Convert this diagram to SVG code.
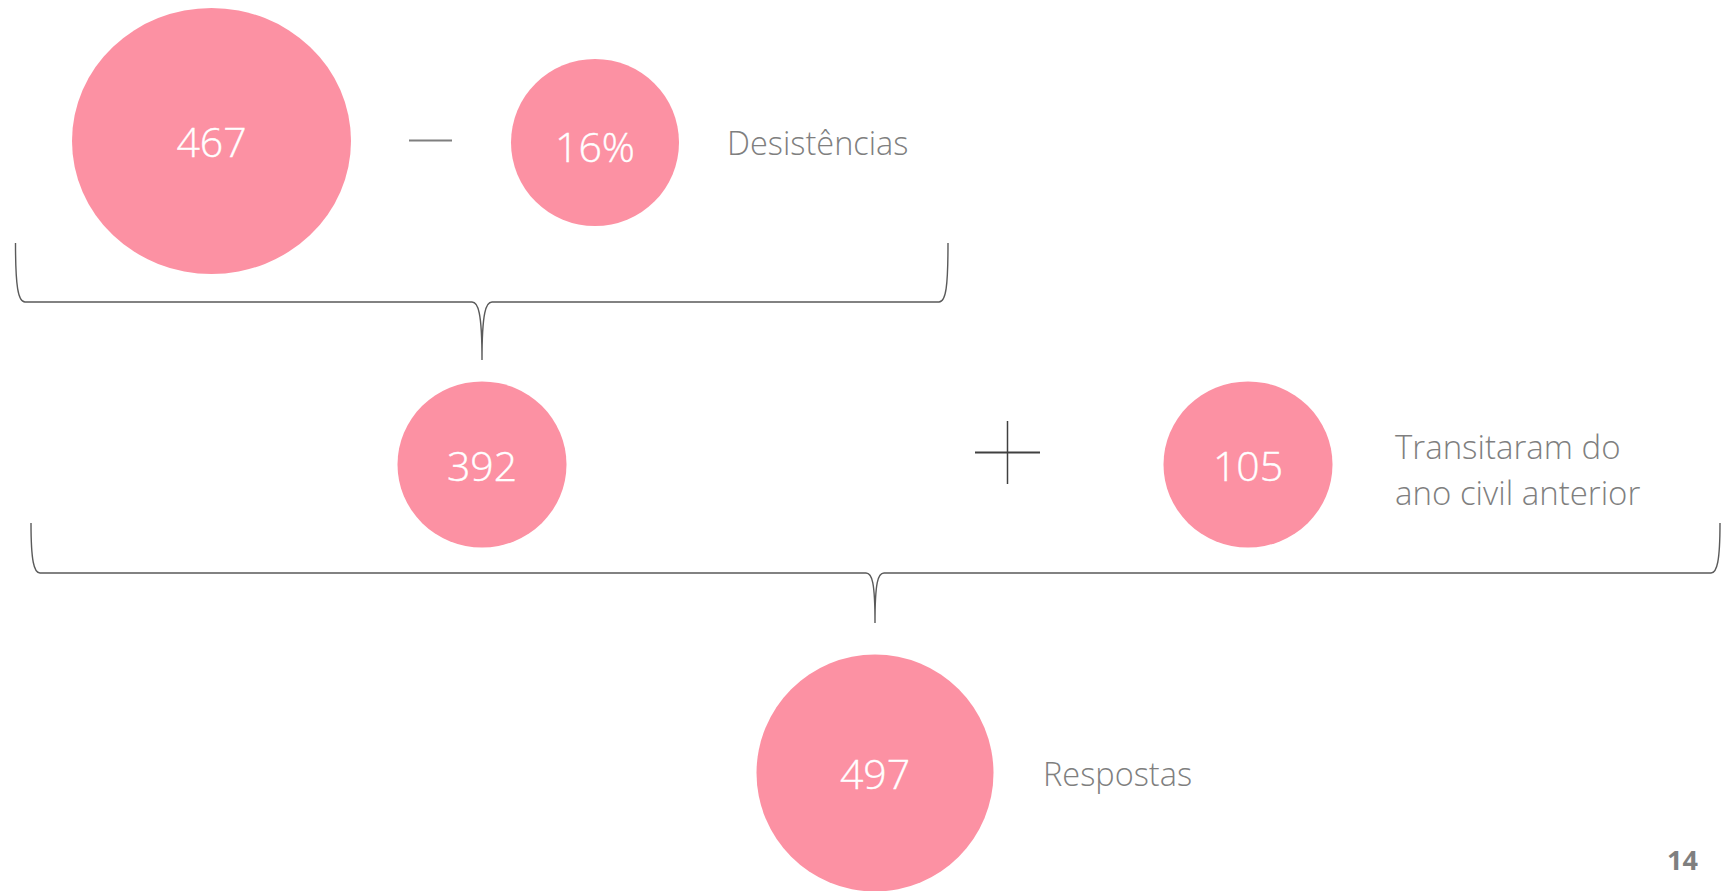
<svg xmlns="http://www.w3.org/2000/svg" width="1734" height="891" viewBox="0 0 1734 891">
<style>
.bubble{fill:#FC91A3}
.num{font-family:"Open Sans","Liberation Sans",sans-serif;font-weight:300;font-size:41px;fill:#ffffff;text-anchor:middle;stroke:#ffffff;stroke-width:0.4}
.lbl{font-family:"Open Sans","Liberation Sans",sans-serif;font-weight:300;font-size:32.5px;fill:#7f7f7f}
.brace{fill:none;stroke:#5a5a5a;stroke-width:1.4}
</style>
<rect width="1734" height="891" fill="#ffffff"/>
<g id="connectors">
<path class="brace" d="M15.5,243 C15.5,286 18,302 25,302 L472,302 C478,302 482,312 482,360 C482,312 486,302 492,302 L939,302 C946,302 948,286 948,243"/>
<path class="brace" d="M31,523 C31,561 34,573 40,573 L866,573 C872,573 875,582 875,623 C875,582 878,573 884,573 L1711,573 C1717,573 1720,561 1720,523"/>
<line id="minus" x1="409" y1="140.5" x2="452" y2="140.5" stroke="#7f7f7f" stroke-width="2"/>
<g id="plus">
<line x1="975" y1="452.5" x2="1040" y2="452.5" stroke="#404040" stroke-width="2"/>
<line x1="1007.5" y1="421" x2="1007.5" y2="484" stroke="#404040" stroke-width="1.5"/>
</g>
</g>
<g id="n467">
<ellipse class="bubble" cx="211.5" cy="141" rx="139.5" ry="133"/>
<text class="num" x="211.5" y="157">467</text>
</g>
<g id="n16">
<ellipse class="bubble" cx="595" cy="142.5" rx="84" ry="83.5"/>
<text class="num" x="595" y="162">16%</text>
</g>
<text id="desistencias" class="lbl" x="727" y="155">Desistências</text>
<g id="n392">
<ellipse class="bubble" cx="482" cy="464.5" rx="84.5" ry="83"/>
<text class="num" x="482" y="481">392</text>
</g>
<g id="n105">
<ellipse class="bubble" cx="1248" cy="464.5" rx="84.5" ry="83"/>
<text class="num" x="1248" y="481">105</text>
</g>
<text id="transitaram" class="lbl" x="1395" style="font-size:33px"><tspan x="1395" y="459">Transitaram do</tspan><tspan x="1395" y="505">ano civil anterior</tspan></text>
<g id="n497">
<ellipse class="bubble" cx="875" cy="773" rx="118.5" ry="118.5"/>
<text class="num" x="875" y="789">497</text>
</g>
<text id="respostas" class="lbl" x="1043" y="786">Respostas</text>
<text id="page" x="1698" y="870" text-anchor="end" font-family="'Open Sans','Liberation Sans',sans-serif" font-weight="700" font-size="27" fill="#7f7f7f">14</text>
</svg>
